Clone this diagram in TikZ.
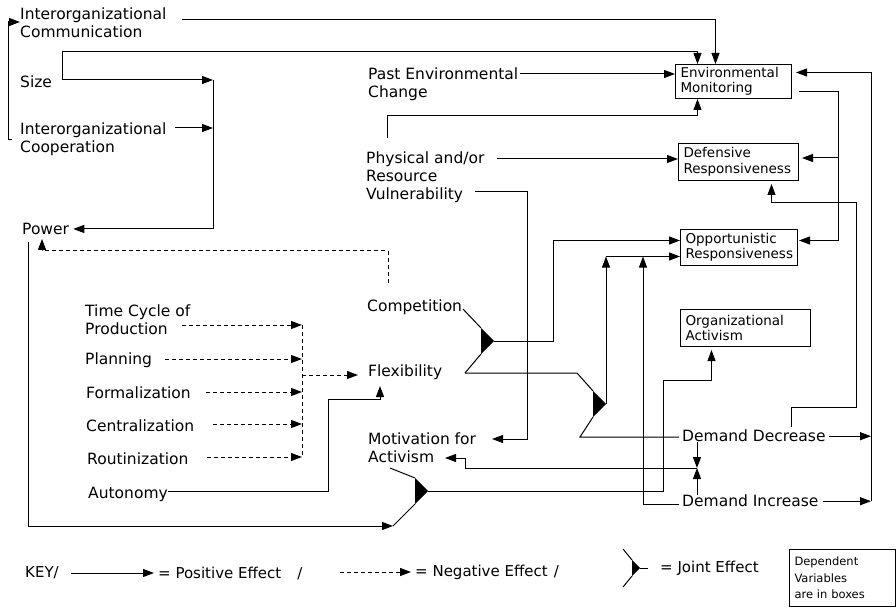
\documentclass[tikz,border=0pt]{standalone}
\usepackage{fontspec}
\setmainfont{DejaVu Sans}
\usetikzlibrary{arrows.meta,calc}
\newcommand{\lblfont}{\fontsize{15.5}{18}\selectfont}
\newcommand{\boxfont}{\fontsize{13.5}{15.5}\selectfont}
\newcommand{\keyfont}{\fontsize{15}{18}\selectfont}
\newcommand{\depkeyfont}{\fontsize{11.5}{16.5}\selectfont}
% filled joint-effect wedge, tip at #1, half height #2
\newcommand{\jointfx}[2]{\fill (#1) -- ++(-#2,-#2) -- ++(0,{2*#2}) -- cycle;}

\begin{document}
\begin{tikzpicture}[x=1pt,y=-1pt,
  lbl/.style={anchor=north west,inner sep=0pt,align=left,font=\lblfont},
  keylbl/.style={anchor=west,inner sep=0pt,font=\keyfont},
  depbox/.style={draw,line width=1pt,anchor=north west,inner xsep=5pt,inner ysep=0pt,align=left,font=\boxfont},
  wire/.style={line width=1pt},
  poseff/.style={wire,-{Triangle[length=11pt,width=8pt]}},
  negeff/.style={poseff,dash pattern=on 4pt off 3pt},
  negwire/.style={wire,dash pattern=on 4pt off 3pt}]
  \useasboundingbox (0,0) rectangle (896,612);

  % dependent variables
  \node[depbox,text width=106pt,minimum height=34pt] (envmon) at (675,64) {Environmental\\Monitoring};
  \node[depbox,text width=110pt,minimum height=37pt] (defres) at (678,143) {Defensive\\Responsiveness};
  \node[depbox,text width=107pt,minimum height=36pt] (oppres) at (680,229) {Opportunistic\\Responsiveness};
  \node[depbox,text width=120pt,minimum height=37pt] (orgact) at (680,309) {Organizational\\Activism};

  % independent variables
  \node[lbl] (comm) at (20,8) {Interorganizational\\Communication};
  \node[lbl] (size) at (20,76) {Size};
  \node[lbl] (coop) at (20,123) {Interorganizational\\Cooperation};
  \node[lbl] (power) at (22,223) {Power};
  \node[lbl] (past) at (368,68) {Past Environmental\\Change};
  \node[lbl] (phys) at (366,152) {Physical and/or\\Resource\\Vulnerability};
  \node[lbl] (comp) at (367,300) {Competition};
  \node[lbl] (flex) at (368,365) {Flexibility};
  \node[lbl] (motiv) at (368,433) {Motivation for\\Activism};
  \node[lbl] (timec) at (85,305) {Time Cycle of\\Production};
  \node[lbl] (plan) at (85,353) {Planning};
  \node[lbl] (formal) at (86,387) {Formalization};
  \node[lbl] (central) at (86,420) {Centralization};
  \node[lbl] (routin) at (87,453) {Routinization};
  \node[lbl] (auton) at (88,487) {Autonomy};
  \node[lbl] (ddec) at (682,430) {Demand Decrease};
  \node[lbl] (dinc) at (682,495) {Demand Increase};

  % bends and junctions
  \coordinate (jcf) at (494,341);
  \coordinate (jfd) at (606,404);
  \coordinate (jmp) at (428,491);
  \coordinate (nbus) at (302,0);
  \coordinate (rbus) at (871,0);
  \coordinate (astep) at (328,399);
  \coordinate (dbus) at (856,203);
  \coordinate (dmeet) at (697,468);
  \coordinate (sizer) at ([xshift=42pt,yshift=-4pt]size.north west);
  \coordinate (pbus) at ([xshift=151pt]sizer);
  \coordinate (commr) at ([xshift=162pt,yshift=-12pt]comm.north west);
  \coordinate (coopr) at ([xshift=155pt,yshift=-5pt]coop.north west);
  \coordinate (pastr) at ([xshift=152pt,yshift=-6pt]past.north west);
  \coordinate (physr) at ([xshift=131pt,yshift=-7pt]phys.north west);
  \coordinate (vulnr) at ([xshift=109pt,yshift=-40pt]phys.north west);
  \coordinate (envr) at ([xshift=7pt,yshift=-10pt]envmon.east);
  \coordinate (envin) at ([xshift=4pt,yshift=9pt]envmon.east);
  \coordinate (ebus) at ([xshift=46pt]envmon.east);
  \coordinate (defe) at ([xshift=3pt,yshift=4pt]defres.east);
  \coordinate (oppe) at ([xshift=1pt,yshift=7pt]oppres.east);
  \coordinate (oppw) at ([yshift=7pt]oppres.west);
  \coordinate (oppin) at ([yshift=-9pt]oppres.west);
  \coordinate (fout) at ([xshift=97pt,yshift=-8pt]flex.north west);
  \coordinate (flexin) at ([xshift=-10pt,yshift=-10pt]flex.north west);
  \coordinate (timer) at ([xshift=97pt,yshift=-20pt]timec.north west);
  \coordinate (planr) at ([xshift=80pt,yshift=-6pt]plan.north west);
  \coordinate (formr) at ([xshift=120pt,yshift=-5pt]formal.north west);
  \coordinate (centr) at ([xshift=127pt,yshift=-4pt]central.north west);
  \coordinate (routr) at ([xshift=120pt,yshift=-4pt]routin.north west);
  \coordinate (autr) at ([xshift=80pt,yshift=-4pt]auton.north west);
  \coordinate (dincw) at ([xshift=-3pt,yshift=-9pt]dinc.north west);

  % into Environmental Monitoring
  \draw[poseff] (commr) -| ([xshift=-18pt]envmon.north);
  \draw[poseff] (sizer) -- ++(0,-28) -| ([xshift=-36pt]envmon.north);
  \draw[poseff] (pastr) -- (pastr -| envmon.west);
  \draw[poseff] ([xshift=21pt,yshift=14pt]phys.north west) -- ++(0,-22) -| ([xshift=-36pt]envmon.south);

  % into Power and Communication
  \draw[poseff] (sizer) -- (pbus);
  \draw[poseff] (coopr) -- (coopr -| pbus);
  \draw[poseff] (pbus) |- ([xshift=4pt]power.east);
  \draw[poseff] ([xshift=-8pt,yshift=-17pt]coop.north west) -- ++(-4,0) |- ([yshift=-14pt]comm.north west);
  \draw[negeff] ([xshift=21pt,yshift=17pt]comp.north west) -- ++(0,-32) -| ([xshift=20pt,yshift=-4pt]power.south west);

  % into Flexibility
  \foreach \c in {timer,planr,formr,centr,routr}
    \draw[negeff] (\c) -- (\c -| nbus);
  \draw[negwire] (timer -| nbus) -- (routr -| nbus);
  \draw[negeff] (flexin -| nbus) -- (flexin);
  \draw[poseff] (autr) -| (astep) -| ([xshift=12pt,yshift=-21pt]flex.north west);

  % vulnerability
  \draw[poseff] (physr) -- (physr -| defres.west);
  \draw[poseff] (vulnr) -- ++(52,0) |- ([xshift=124pt,yshift=-6pt]motiv.north west);

  % joint effect: competition x flexibility
  \jointfx{jcf}{13}
  \draw[wire] ([xshift=96pt,yshift=-9pt]comp.north west) -- ($(jcf)+(-13,-13)$);
  \draw[wire] (fout) -- ($(jcf)+(-13,13)$);
  \draw[poseff] (jcf) -- ++(59,0) |- (oppw);

  % joint effect: flexibility x demand decrease
  \jointfx{jfd}{13}
  \draw[wire] (fout) -- ++(112,0) -- ($(jfd)+(-13,-13)$);
  \draw[wire] ([xshift=-3pt,yshift=-7pt]ddec.north west) -- ++(-99,0) -- ($(jfd)+(-13,13)$);
  \draw[poseff] (jfd) -- (oppin -| jfd);
  \draw[poseff] (oppin -| jfd) -- (oppin);
  \draw[poseff] (dincw) -| ($(oppin)+(-37,0)$);

  % joint effect: motivation x power
  \jointfx{jmp}{13}
  \draw[wire] ([xshift=22pt,yshift=-35pt]motiv.north west) -- ($(jmp)+(-13,-13)$);
  \draw[poseff] ([xshift=6pt,yshift=-7pt]power.south west) |- ($(jmp)+(-35,35)$);
  \draw[wire] ($(jmp)+(-35,35)$) -- ($(jmp)+(-13,13)$);
  \draw[poseff] (jmp) -- ++(235,0) -- ++(0,-111) -| ([xshift=-34pt,yshift=-3pt]orgact.south);

  % demand
  \draw[poseff] (ddec.south west -| dmeet) -- (dmeet);
  \draw[poseff] (dinc.north west -| dmeet) -- (dmeet);
  \draw[poseff] (dmeet) -- ++(-232,0) |- ([xshift=77pt,yshift=-25pt]motiv.north west);
  \draw[poseff] ([xshift=3pt]ddec.east) -- (ddec.east -| rbus);
  \draw[poseff] ([xshift=4pt]dinc.east) -- (dinc.east -| rbus);
  \draw[poseff] (dinc.east -| rbus) |- (envin);
  \draw[poseff] ([xshift=109pt,yshift=3pt]ddec.north west) -- ++(0,-20) -| (dbus) -| ([xshift=33pt,yshift=-3pt]defres.south);

  % monitoring
  \draw[poseff] (envr) -- (envr -| ebus) |- (oppe);
  \draw[poseff] (ebus |- defe) -- (defe);

  % key
  \node[keylbl] (keyt) at (25,573) {KEY/};
  \node[keylbl] (posk) at (158,573) {= Positive Effect\hspace{16pt}/};
  \node[keylbl] (negk) at (415,572) {= Negative Effect\hspace{6pt}/};
  \node[keylbl] (jointk) at (660,568) {= Joint Effect};
  \draw[poseff] ([xshift=12pt]keyt.east) -- ([xshift=-4pt]posk.west);
  \draw[negeff] ([xshift=-75pt]negk.west) -- ([xshift=-4pt]negk.west);
  \coordinate (jkey) at (640,568);
  \jointfx{jkey}{8}
  \draw[wire] ($(jkey)+(-8,-8)$) -- ++(-9,-11);
  \draw[wire] ($(jkey)+(-8,8)$) -- ++(-9,11);
  \draw[wire] (jkey) -- ([xshift=-12pt]jointk.west);
  \node[depbox,font=\depkeyfont,text width=96pt,minimum height=57pt] (depk) at (789,549) {Dependent\\Variables\\are in boxes};
\end{tikzpicture}
\end{document}
